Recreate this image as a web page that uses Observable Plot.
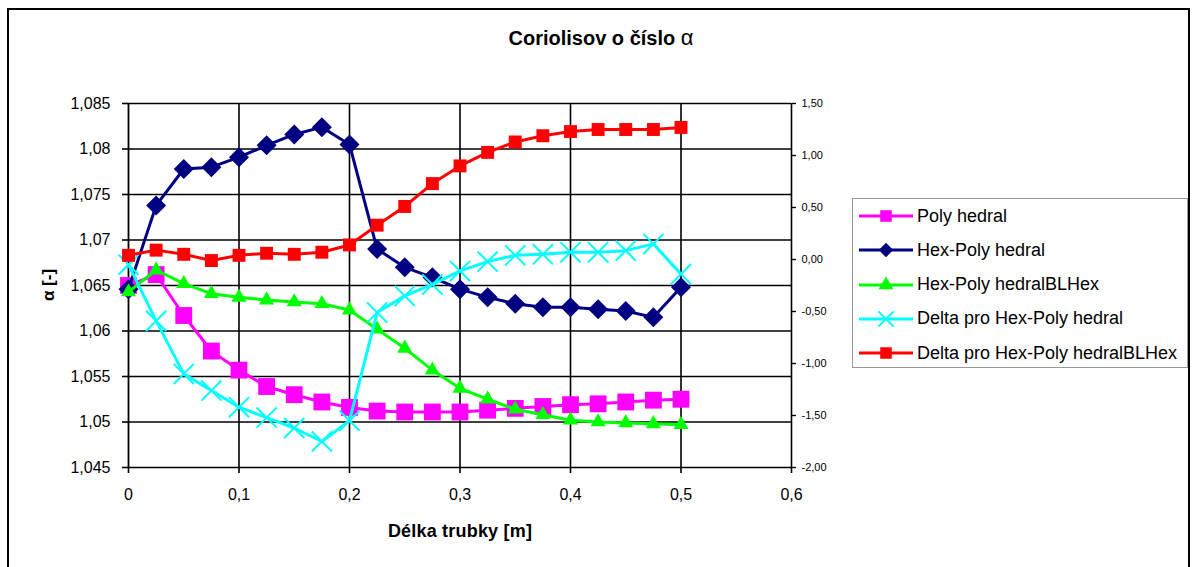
<!DOCTYPE html>
<html><head><meta charset="utf-8">
<script src="https://cdn.jsdelivr.net/npm/d3@7"></script>
<script src="https://cdn.jsdelivr.net/npm/@observablehq/plot@0.6"></script>
<style>
body{margin:0;background:#fff;font-family:"Liberation Sans",Arial,sans-serif;}
#wrap{position:relative;width:1196px;height:567px;overflow:hidden;background:#fff}
#frame{position:absolute;left:7px;top:8px;width:1183px;height:570px;border:2px solid #000;box-sizing:border-box}
#plot{position:absolute;left:0;top:0}
.lbl{position:absolute;white-space:nowrap;color:#000;line-height:1}
#legend{position:absolute;left:852px;top:198px;width:336px;height:170px;border:1px solid #999;box-sizing:border-box;background:#fff}
.row{position:absolute;left:0;height:34px;display:flex;align-items:center;font-size:18px;white-space:nowrap}
.row svg{margin-left:5px;margin-right:3px}
</style></head><body><div id="wrap"><div id="frame"></div><div id="plot"></div></div>
<script>
// ---- data ----
const xVals = [0,0.025,0.05,0.075,0.1,0.125,0.15,0.175,0.2,0.225,0.25,0.275,0.3,0.325,0.35,0.375,0.4,0.425,0.45,0.475,0.5];
const polyhedral = [1.0650,1.0662,1.0617,1.0578,1.0557,1.0539,1.0530,1.0522,1.0516,1.0512,1.0511,1.0511,1.0511,1.0513,1.0515,1.0517,1.0519,1.0520,1.0522,1.0524,1.0525];
const hexPolyhedral = [1.0646,1.0738,1.0778,1.0780,1.0791,1.0804,1.0816,1.0824,1.0805,1.0690,1.0670,1.0659,1.0646,1.0637,1.0630,1.0626,1.0626,1.0624,1.0622,1.0615,1.0648];
const hexPolyhedralBLHex = [1.0643,1.0667,1.0652,1.0641,1.0637,1.0634,1.0632,1.0630,1.0623,1.0602,1.0581,1.0557,1.0537,1.0525,1.0514,1.0508,1.0502,1.0500,1.0499,1.0498,1.0497];
const deltaHexPolyhedral = [-0.05,-0.59,-1.10,-1.26,-1.42,-1.52,-1.62,-1.75,-1.55,-0.51,-0.35,-0.24,-0.11,-0.02,0.04,0.05,0.07,0.07,0.085,0.15,-0.14];
const deltaHexPolyhedralBLHex = [0.04,0.09,0.05,-0.01,0.04,0.06,0.05,0.07,0.14,0.33,0.51,0.73,0.90,1.03,1.13,1.19,1.23,1.25,1.25,1.25,1.27];

const seriesNames = ["Poly hedral","Hex-Poly hedral","Hex-Poly hedralBLHex","Delta pro Hex-Poly hedral","Delta pro Hex-Poly hedralBLHex"];
const leftTicks = [1.045,1.05,1.055,1.06,1.065,1.07,1.075,1.08,1.085];
const rightTicks = [-2,-1.5,-1,-0.5,0,0.5,1,1.5];
const xTicks = [0,0.1,0.2,0.3,0.4,0.5,0.6];
const titleText = "Coriolisov o číslo ";
const xLabel = "Délka trubky [m]";
const yLabel = "α [-]";

// ---- scales mapping (secondary axis mapped onto primary) ----
const L0 = 1.045, L1 = 1.085, R0 = -2, R1 = 1.5;
const toLeft = v => L0 + (v - R0) * (L1 - L0) / (R1 - R0);
const toRight = y => R0 + (y - L0) * (R1 - R0) / (L1 - L0);
const comma = s => s.replace(".", ",");
const fmtL = v => comma(String(+v.toFixed(3)));
const fmtR = v => comma((Math.abs(v) < 1e-9 ? 0 : v).toFixed(2));
const fmtX = v => comma(String(+v.toFixed(2)));

const styles = [
  {values: polyhedral, secondary: false, color: "#FF00FF", symbol: "square", r: 9.5, lr: 6.5, d3s: d3.symbolSquare},
  {values: hexPolyhedral, secondary: false, color: "#000080", symbol: "diamond2", r: 9, lr: 6.5, d3s: d3.symbolDiamond2},
  {values: hexPolyhedralBLHex, secondary: false, color: "#00FF00", symbol: "triangle", r: 5.6, lr: 5.5, d3s: d3.symbolTriangle},
  {values: deltaHexPolyhedral, secondary: true, color: "#00FFFF", symbol: "times", r: 9.2, lr: 7, d3s: d3.symbolTimes, stroke: true},
  {values: deltaHexPolyhedralBLHex, secondary: true, color: "#FF0000", symbol: "square", r: 7.3, lr: 6.5, d3s: d3.symbolSquare}
];

const marks = [
  Plot.gridY(leftTicks, {stroke: "#000", strokeOpacity: 1, strokeWidth: 1.6}),
  Plot.gridX(xTicks.slice(1), {stroke: "#000", strokeOpacity: 1, strokeWidth: 1.6}),
  Plot.ruleX([0], {stroke: "#000", strokeWidth: 1.8}),
  Plot.axisY(leftTicks, {anchor: "left", tickSize: 6, tickPadding: 12, tickFormat: fmtL, fontSize: 16, label: null, stroke: "#000", strokeWidth: 1.6}),
  Plot.axisY(rightTicks.map(toLeft), {anchor: "right", tickSize: 4, tickPadding: 6, tickFormat: v => fmtR(toRight(v)), fontSize: 11, label: null, stroke: "#000", strokeWidth: 1.4}),
  Plot.axisX(xTicks, {anchor: "bottom", tickSize: 6, tickPadding: 15, tickFormat: fmtX, fontSize: 16, label: null, stroke: "#000", strokeWidth: 1.6})
];

styles.forEach((s, i) => {
  const data = xVals.map((x, j) => ({x, y: s.secondary ? toLeft(s.values[j]) : s.values[j]}));
  marks.push(Plot.line(data, {x: "x", y: "y", stroke: s.color, strokeWidth: 3}));
  if (s.stroke) {
    marks.push(Plot.dot(data, {x: "x", y: "y", symbol: s.symbol, r: s.r, stroke: s.color, strokeWidth: 2, fill: "none"}));
  } else {
    marks.push(Plot.dot(data, {x: "x", y: "y", symbol: s.symbol, r: s.r, fill: s.color, stroke: "none"}));
  }
});

const chart = Plot.plot({
  width: 1196, height: 567,
  marginLeft: 128, marginRight: 405, marginTop: 103, marginBottom: 100,
  x: {domain: [0, 0.6]},
  y: {domain: [L0, L1]},
  style: {fontFamily: "'Liberation Sans', Arial, sans-serif", color: "#000", background: "transparent", overflow: "visible"},
  marks
});
document.getElementById("plot").appendChild(chart);

const wrap = document.getElementById("wrap");
// title
const t = document.createElement("div");
t.className = "lbl";
t.style.cssText = "left:601px;top:27px;transform:translateX(-50%);font-size:20px;font-weight:bold;";
t.innerHTML = `${titleText}<span style="font-weight:normal;font-size:22px">α</span>`;
wrap.appendChild(t);
// x label
const xl = document.createElement("div");
xl.className = "lbl";
xl.style.cssText = "left:460px;top:522px;transform:translateX(-50%);font-size:18px;font-weight:bold;letter-spacing:0.2px;";
xl.textContent = xLabel;
wrap.appendChild(xl);
// y label
const yl = document.createElement("div");
yl.className = "lbl";
yl.style.cssText = "left:48px;top:285px;transform:translate(-50%,-50%) rotate(-90deg);font-size:17px;font-weight:bold;";
yl.textContent = yLabel;
wrap.appendChild(yl);
// legend
const lg = document.createElement("div");
lg.id = "legend";
wrap.appendChild(lg);
seriesNames.forEach((name, i) => {
  const s = styles[i];
  const row = document.createElement("div");
  row.className = "row";
  row.style.top = (0 + i * 34.3) + "px";
  const svg = d3.create("svg").attr("width", 56).attr("height", 20);
  svg.append("line").attr("x1", 1).attr("x2", 55).attr("y1", 10).attr("y2", 10).attr("stroke", s.color).attr("stroke-width", 3);
  const path = d3.symbol().type(s.d3s).size(Math.PI * s.lr * s.lr)();
  const p = svg.append("path").attr("d", path).attr("transform", "translate(28,10)");
  if (s.stroke) p.attr("fill", "none").attr("stroke", s.color).attr("stroke-width", 2);
  else p.attr("fill", s.color);
  row.appendChild(svg.node());
  const tx = document.createElement("span");
  tx.textContent = name;
  row.appendChild(tx);
  lg.appendChild(row);
});
</script></body></html>
